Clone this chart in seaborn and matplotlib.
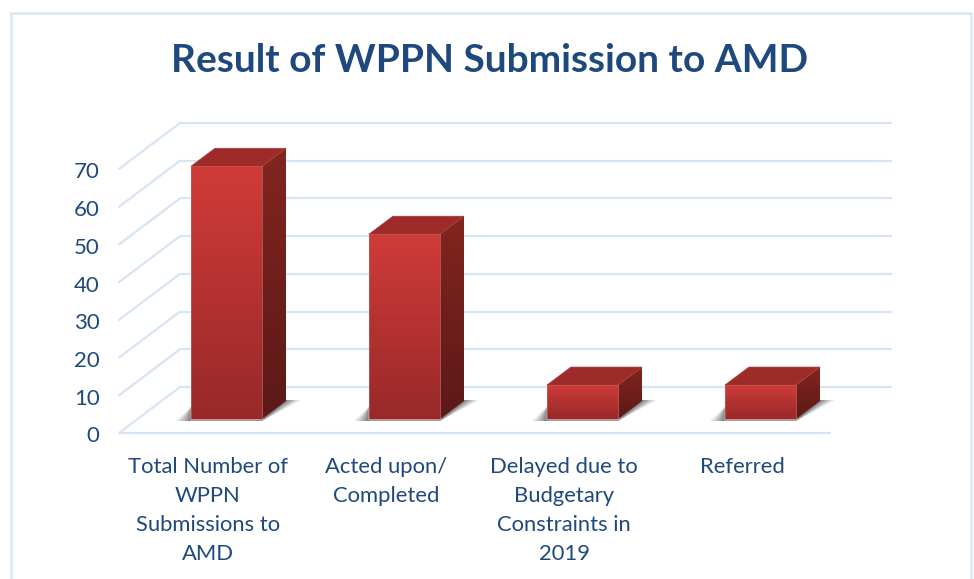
import numpy as np
import pandas as pd
import seaborn as sns
import matplotlib
matplotlib.use("Agg")
import matplotlib.pyplot as plt
from matplotlib.colors import LinearSegmentedColormap
from matplotlib.lines import Line2D
from matplotlib.patches import Polygon
from matplotlib.transforms import Affine2D, IdentityTransform

categories = ["Total Number of\nWPPN\nSubmissions to\nAMD", "Acted upon/\nCompleted",
              "Delayed due to\nBudgetary\nConstraints in\n2019", "Referred"]
values = [67, 49, 9, 9]
y_ticks = [0, 10, 20, 30, 40, 50, 60, 70]
title = "Result of WPPN Submission to AMD"

W, H = 974, 579
BLUE = "#1f497d"
GRID = "#d7e4f4"
FRAME = "#d9e6f6"

sns.set_theme(style="white")
plt.rcParams["font.family"] = ["Lato", "DejaVu Sans"]

fig = plt.figure(figsize=(W / 100, H / 100), dpi=100)
# front floor edge runs 119..831 px, value 0 at y=433, value 70 at y=169
ax = fig.add_axes([119 / W, (H - 433) / H, 712 / W, 264 / H])

df = pd.DataFrame({"category": categories, "value": values})
sns.barplot(data=df, x="category", y="value", color="#b83231", saturation=1,
            width=0.4, ax=ax, zorder=5)
ax.set_xlim(-0.5, 3.5)
ax.set_ylim(0, 70)
ax.set_yticks(y_ticks)
ax.set_xlabel("")
ax.set_ylabel("")
sns.despine(ax=ax, left=True, bottom=True)
ax.tick_params(axis="y", length=0, pad=14, labelsize=16, labelcolor=BLUE)
ax.tick_params(axis="x", length=0, pad=17.5, labelsize=15.8, labelcolor=BLUE)
for t in ax.get_xticklabels():
    t.set_linespacing(1.565)
    t.set_va("top")
for t in ax.get_yticklabels():
    t.set_transform(t.get_transform() + Affine2D().translate(0, -1.5))

ident = IdentityTransform()

# back wall lines and the diagonals running to them
depth = (61, 46)
back = ax.transData + Affine2D().translate(*depth)
ax.hlines(y_ticks, -0.5, 3.5, color=GRID, lw=1.6, transform=back, clip_on=False, zorder=1)
ax.hlines(0, -0.5, 3.5, color=GRID, lw=1.6, clip_on=False, zorder=1)
for v in y_ticks:
    x0, y0 = ax.transData.transform((-0.5, v))
    ax.add_line(Line2D([x0, x0 + depth[0]], [y0, y0 + depth[1]], color=GRID, lw=1.6,
                       transform=ident, clip_on=False, zorder=1))

front_cm = LinearSegmentedColormap.from_list("front", ["#d03b38", "#98292a"])
side_cm = LinearSegmentedColormap.from_list("side", ["#82251f", "#5c1917"])
gradient = np.linspace(0, 1, 128).reshape(-1, 1)


def shaded(poly_pts, cmap, z):
    pts = np.array(poly_pts)
    clip = Polygon(pts, transform=ident, fc="none", ec="none")
    ax.add_patch(clip)
    im = ax.imshow(gradient, cmap=cmap, aspect="auto", transform=ident, zorder=z,
                   extent=(pts[:, 0].min(), pts[:, 0].max(), pts[:, 1].min(), pts[:, 1].max()))
    im.set_clip_box(fig.bbox)
    im.set_clip_path(clip)


# bars stand a little behind the front edge, with a fixed depth in pixels
inset = (18.5, 14)
dx, dy = 24, 18
for p in ax.patches[:len(values)]:
    (l, b), (r, t) = ax.transData.transform(
        [(p.get_x(), 0), (p.get_x() + p.get_width(), p.get_height())])
    l, r, b, t = l + inset[0], r + inset[0], b + inset[1], t + inset[1]
    p.set_transform(ax.transData + Affine2D().translate(*inset))
    p.set_clip_on(False)
    # soft shadow on the floor
    for grow, alpha in zip([15, 12, 9, 6, 3], [0.10, 0.13, 0.16, 0.2, 0.24]):
        ax.add_patch(Polygon([(l - grow, b - 2), (r, b - 2), (r + dx + grow, b + dy + 1),
                              (r + dx, b + dy + 1), (l, b + 12)],
                             transform=ident, fc="#3a3a3a", ec="none", alpha=alpha,
                             zorder=3, clip_on=False))
    shaded([(l, b), (r, b), (r, t), (l, t)], front_cm, 6)
    shaded([(r, b), (r + dx, b + dy), (r + dx, t + dy), (r, t)], side_cm, 6)
    ax.add_patch(Polygon([(l, t), (l + dx, t + dy), (r + dx, t + dy), (r, t)],
                         transform=ident, fc="#9c2b29", ec="#a93b38", lw=0.5, zorder=7,
                         clip_on=False))
    ax.add_patch(Polygon([(l, b), (r, b), (r, t), (l, t)], transform=ident, fc="none",
                         ec="#c2605d", lw=0.5, zorder=7, clip_on=False))

ax.set_xlim(-0.5, 3.5)
ax.set_ylim(0, 70)

# chart frame, open at the bottom where the picture was cropped
fx0, fx1, fy = 10.5 / W, 971 / W, 1 - 12.5 / H
fig.add_artist(Line2D([fx0, fx0, fx1, fx1], [0, fy, fy, 0], color=FRAME, lw=1.8,
                      transform=fig.transFigure))

fig.text(490 / W, 1 - 60 / H, title, ha="center", va="center", fontsize=28,
         fontweight="bold", color=BLUE)

fig.savefig("out.png", dpi=100)
